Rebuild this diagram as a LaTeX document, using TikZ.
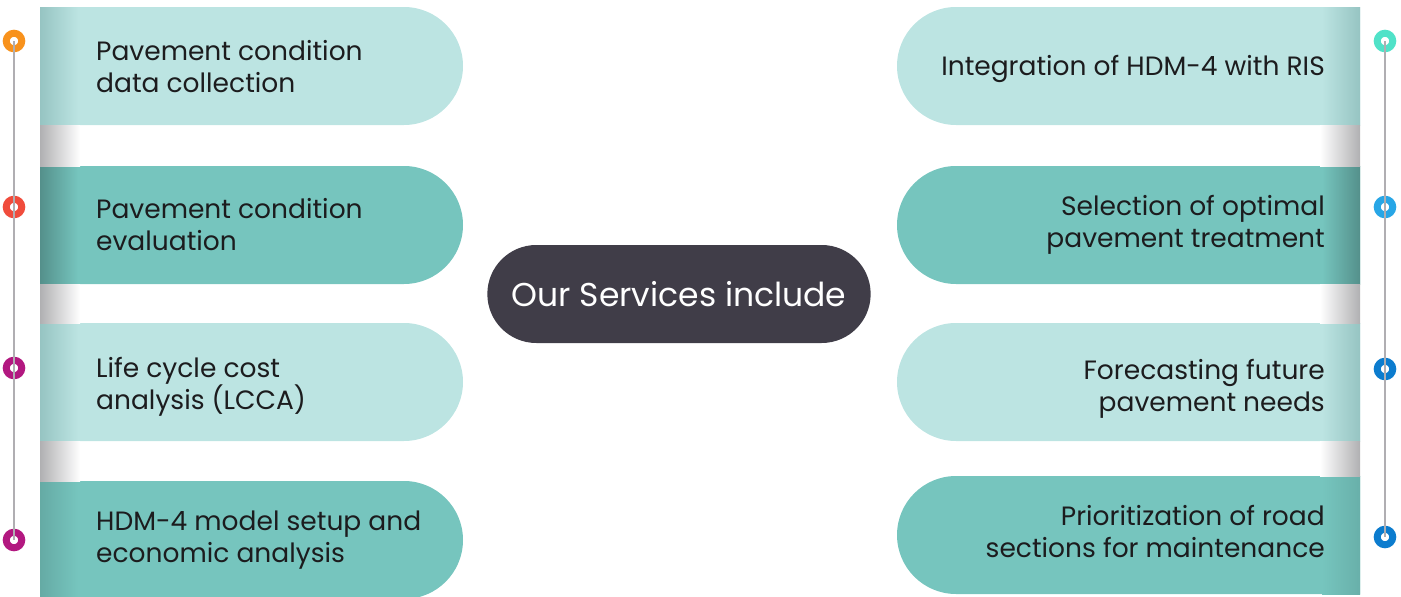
\documentclass[tikz,border=0pt]{standalone}
\usepackage{fontspec}
\setmainfont{Poppins}
\usetikzlibrary{positioning,shapes.misc}

\definecolor{panelLight}{RGB}{188,228,226}
\definecolor{panelDark}{RGB}{118,197,190}
\definecolor{edgeLight}{RGB}{150,196,194}
\definecolor{edgeDark}{RGB}{84,144,139}
\definecolor{gapGrey}{RGB}{176,176,178}
\definecolor{hubGrey}{RGB}{64,61,72}
\definecolor{inkDark}{RGB}{28,28,30}
\definecolor{railGrey}{RGB}{176,174,178}
\definecolor{dotOrange}{RGB}{248,146,28}
\definecolor{dotRed}{RGB}{240,76,60}
\definecolor{dotMagenta}{RGB}{178,24,128}
\definecolor{dotMint}{RGB}{80,226,200}
\definecolor{dotBlue}{RGB}{40,166,230}
\definecolor{dotNavy}{RGB}{12,124,206}

\tikzset{
	panel/.style={rounded rectangle, minimum height=118pt, inner sep=0pt, outer sep=0pt},
	west panel/.style={panel, minimum width=423pt, rounded rectangle west arc=none, fill=#1},
	east panel/.style={panel, minimum width=463pt, rounded rectangle east arc=none, fill=#1},
	item/.style={font=\fontsize{26.5}{32}\selectfont, text=inkDark, inner sep=0pt},
	hub/.style={rounded rectangle, minimum width=390pt, minimum height=98pt, fill=hubGrey, text=white, font=\fontsize{33}{38}\selectfont},
	rail/.style={draw=railGrey, line width=1.2pt},
	dot/.style={circle, draw=#1, line width=7pt, minimum size=15.5pt, inner sep=0pt},
}

\begin{document}
\begin{tikzpicture}[x=1pt, y=-1pt]
	\useasboundingbox (0,0) rectangle (1401,597);

	% left column
	\node[west panel=panelLight] (lp1) at (251.5,66) {};
	\node[west panel=panelDark] (lp2) at (251.5,225) {};
	\node[west panel=panelLight] (lp3) at (251.5,382) {};
	\node[west panel=panelDark] (lp4) at (251.5,540) {};
	\shade[left color=edgeLight, right color=panelLight] (40,7) rectangle (78,125);
	\shade[left color=edgeDark, right color=panelDark] (40,166) rectangle (78,284);
	\shade[left color=edgeLight, right color=panelLight] (40,323) rectangle (78,441);
	\shade[left color=edgeDark!50!panelDark, right color=panelDark] (40,481) rectangle (78,597);
	\shade[left color=gapGrey, right color=white] (40,125) rectangle (80,166);
	\shade[left color=gapGrey, right color=white] (40,284) rectangle (80,323);
	\shade[left color=gapGrey, right color=white] (40,441) rectangle (80,481);

	\node[item, align=left, right=56pt of lp1.west, yshift=-1pt] (lt1) {Pavement condition\\data collection};
	\node[item, align=left, right=56pt of lp2.west] (lt2) {Pavement condition\\evaluation};
	\node[item, align=left, right=56pt of lp3.west, yshift=-5pt] (lt3) {Life cycle cost\\analysis (LCCA)};
	\node[item, align=left, right=56pt of lp4.west] (lt4) {HDM-4 model setup and\\economic analysis};

	% right column
	\node[east panel=panelLight] (rp1) at (1128.5,66) {};
	\node[east panel=panelDark] (rp2) at (1128.5,225) {};
	\node[east panel=panelLight] (rp3) at (1128.5,382) {};
	\node[east panel=panelDark] (rp4) at (1128.5,535) {};
	\shade[left color=panelLight, right color=edgeLight] (1322,7) rectangle (1360,125);
	\shade[left color=panelDark, right color=edgeDark] (1322,166) rectangle (1360,284);
	\shade[left color=panelLight, right color=edgeLight] (1322,323) rectangle (1360,441);
	\shade[left color=panelDark, right color=edgeDark!40!panelDark] (1322,476) rectangle (1360,594);
	\shade[left color=white, right color=gapGrey] (1320,125) rectangle (1360,166);
	\shade[left color=white, right color=gapGrey] (1320,284) rectangle (1360,323);
	\shade[left color=white, right color=gapGrey] (1320,441) rectangle (1360,476);

	\node[item, align=right, left=35pt of rp1.east, yshift=-3pt] (rt1) {Integration of HDM-4 with RIS};
	\node[item, align=right, left=35pt of rp2.east] (rt2) {Selection of optimal\\pavement treatment};
	\node[item, align=right, left=35pt of rp3.east, yshift=-7pt] (rt3) {Forecasting future\\pavement needs};
	\node[item, align=right, left=35pt of rp4.east, yshift=4pt] (rt4) {Prioritization of road\\sections for maintenance};

	% centre
	\node[hub] (hub) at (679,294) {Our Services include};

	% timelines
	\node[dot=dotOrange] (ld1) at (14,41) {};
	\node[dot=dotRed] (ld2) at (14,207) {};
	\node[dot=dotMagenta] (ld3) at (14,368) {};
	\node[dot=dotMagenta] (ld4) at (14,540) {};
	\node[dot=dotMint] (rd1) at (1385,41) {};
	\node[dot=dotBlue] (rd2) at (1385,207) {};
	\node[dot=dotNavy] (rd3) at (1385,369) {};
	\node[dot=dotNavy] (rd4) at (1385,537) {};
	\draw[rail] (ld1.center) -- (ld4.center);
	\draw[rail] (rd1.center) -- (rd4.center);
\end{tikzpicture}
\end{document}
